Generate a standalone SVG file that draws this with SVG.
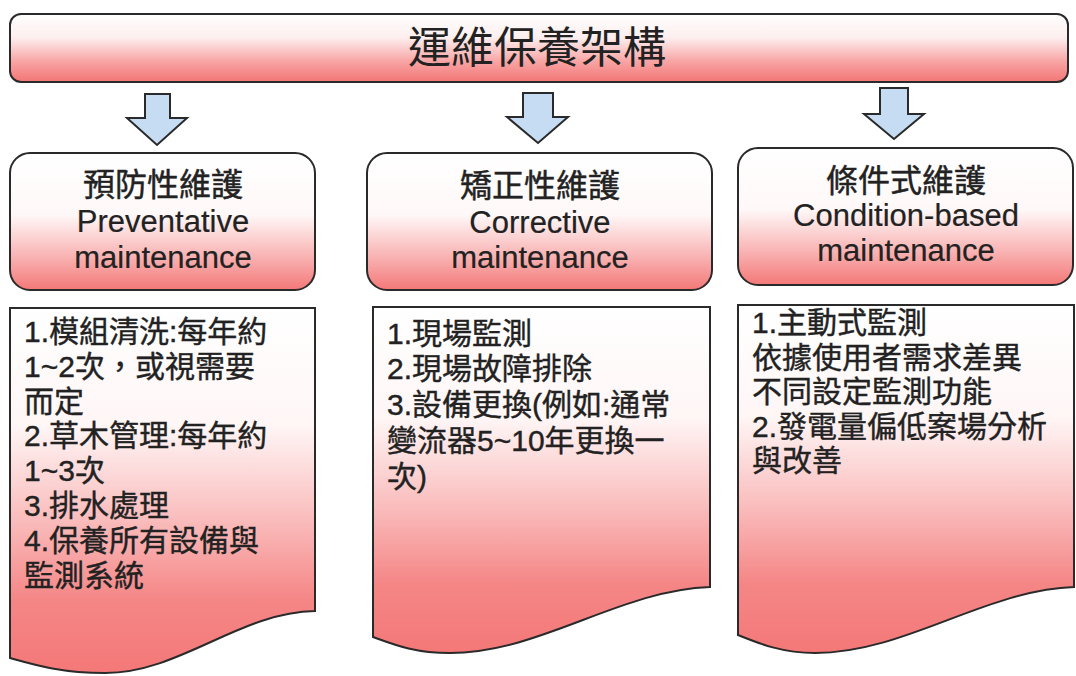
<svg xmlns="http://www.w3.org/2000/svg" width="1076" height="676" viewBox="0 0 1076 676">
<defs>
<linearGradient id="gTop" x1="0" y1="0" x2="0" y2="1">
<stop offset="0" stop-color="#ffffff"/>
<stop offset="0.35" stop-color="#fdeeee"/>
<stop offset="0.7" stop-color="#f8a4a4"/>
<stop offset="1" stop-color="#f37575"/>
</linearGradient>
<linearGradient id="gHead" x1="0" y1="0" x2="0" y2="1">
<stop offset="0" stop-color="#ffffff"/>
<stop offset="0.45" stop-color="#fff8f8"/>
<stop offset="0.75" stop-color="#f9b4b4"/>
<stop offset="1" stop-color="#f47878"/>
</linearGradient>
<linearGradient id="gDoc" x1="0" y1="0" x2="0" y2="1">
<stop offset="0" stop-color="#ffffff"/>
<stop offset="0.32" stop-color="#fff6f6"/>
<stop offset="0.58" stop-color="#fabcbc"/>
<stop offset="0.8" stop-color="#f58686"/>
<stop offset="1" stop-color="#f47878"/>
</linearGradient>
<style>
.box{stroke:#2a2a2a;stroke-width:2}
.arrow{fill:#c5dcf3;stroke:#2a2a2a;stroke-width:2;stroke-linejoin:miter}
.t{font-family:"Liberation Sans","Noto Sans CJK TC",sans-serif;fill:#222}
.title{font-family:"Noto Sans CJK TC",sans-serif;font-size:43px;text-anchor:middle}
.head{font-family:"Liberation Sans","Noto Sans CJK TC",sans-serif;font-size:31px;text-anchor:middle;fill:#222;stroke:#222;stroke-width:0.2}
.headc{font-size:32px;text-anchor:middle;stroke:#222;stroke-width:0.45}
.body{font-size:30px;stroke:#222;stroke-width:0.4}
</style>
</defs>
<rect width="1076" height="676" fill="#ffffff"/>

<g id="title">
<rect class="box" x="10" y="14" width="1058" height="68" rx="11" fill="url(#gTop)"/>
<text class="t title" x="537" y="63">運維保養架構</text>
</g>

<g id="connectors">
<path class="arrow" d="M145,94 H170 V118 H187 L157,145 L127,118 H145 Z"/>
<path class="arrow" d="M523,93 H553 V117 H568 L538,143 L507,117 H523 Z"/>
<path class="arrow" d="M880,88 H908 V114 H924 L894,139 L864,114 H880 Z"/>
</g>

<g id="head-preventive">
<rect class="box" x="10" y="153" width="305" height="137" rx="20" fill="url(#gHead)"/>
<text class="t headc" x="163" y="196">預防性維護</text>
<text class="head" x="163" y="232">Preventative</text>
<text class="head" x="163" y="268">maintenance</text>
</g>

<g id="head-corrective">
<rect class="box" x="367" y="153" width="345" height="137" rx="20" fill="url(#gHead)"/>
<text class="t headc" x="540" y="197">矯正性維護</text>
<text class="head" x="540" y="233">Corrective</text>
<text class="head" x="540" y="268">maintenance</text>
</g>

<g id="head-condition">
<rect class="box" x="738" y="148" width="335" height="137" rx="20" fill="url(#gHead)"/>
<text class="t headc" x="906" y="192">條件式維護</text>
<text class="head" x="906" y="226">Condition-based</text>
<text class="head" x="906" y="261">maintenance</text>
</g>

<g id="body-preventive">
<path class="box" fill="url(#gDoc)" d="M10,308 H315 V611 C240,612 180,673 105,673 C62,673 35,665 10,658 Z"/>
<text class="t body" x="24" y="342"><tspan x="24" y="342">1.模組清洗:每年約</tspan><tspan x="24" y="377">1~2次，或視需要</tspan><tspan x="24" y="412">而定</tspan><tspan x="24" y="446">2.草木管理:每年約</tspan><tspan x="24" y="481">1~3次</tspan><tspan x="24" y="516">3.排水處理</tspan><tspan x="24" y="551">4.保養所有設備與</tspan><tspan x="24" y="586">監測系統</tspan></text>
</g>

<g id="body-corrective">
<path class="box" fill="url(#gDoc)" d="M373,307 H710 V587 C620,590 540,653 450,653 C415,653 395,645 373,637 Z"/>
<text class="t body" x="387" y="344"><tspan x="387" y="344">1.現場監測</tspan><tspan x="387" y="379">2.現場故障排除</tspan><tspan x="387" y="415">3.設備更換(例如:通常</tspan><tspan x="387" y="451">變流器5~10年更換一</tspan><tspan x="387" y="487">次)</tspan></text>
</g>

<g id="body-condition">
<path class="box" fill="url(#gDoc)" d="M738,305 H1074 V587 C985,590 905,653 815,653 C783,653 760,644 738,635 Z"/>
<text class="t body" x="752" y="333"><tspan x="752" y="333">1.主動式監測</tspan><tspan x="752" y="368">依據使用者需求差異</tspan><tspan x="752" y="402">不同設定監測功能</tspan><tspan x="752" y="437">2.發電量偏低案場分析</tspan><tspan x="752" y="471">與改善</tspan></text>
</g>
</svg>
